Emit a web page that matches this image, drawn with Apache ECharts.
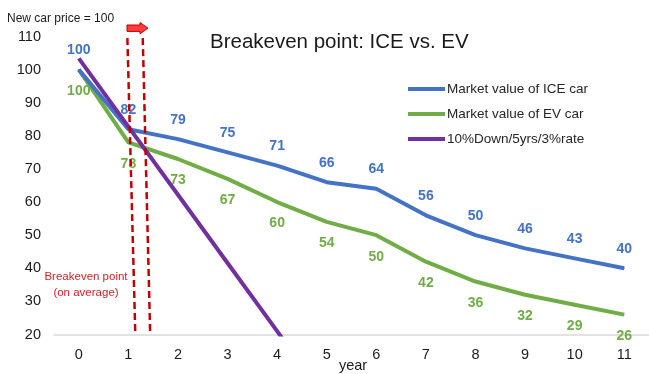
<!DOCTYPE html>
<html>
<head>
<meta charset="utf-8">
<script src="https://cdn.jsdelivr.net/npm/echarts@6/dist/echarts.min.js"></script>
<style>
    html, body { margin: 0; padding: 0; background: #fff; }
    #chart { width: 649px; height: 374px; }
</style>
</head>
<body>
<div id="chart"></div>
<script>
var years = ['0', '1', '2', '3', '4', '5', '6', '7', '8', '9', '10', '11'];
var iceValues = [100, 82, 79, 75, 71, 66, 64, 56, 50, 46, 43, 40];
var evValues = [100, 78, 73, 67, 60, 54, 50, 42, 36, 32, 29, 26];
// 贷款余额线 (只到第5年, 低于20的部分被裁掉)
var loanValues = [103.4, 82.8, 62.2, 41.6, 21.0, 0.4];
// 盈亏平衡点的两条虚线 [x, y]
var breakevenLeft = [[0.98, 109.5], [1.14, 20]];
var breakevenRight = [[1.29, 109.5], [1.44, 20]];
var yTicks = { min: 20, max: 110, interval: 10 };

var font = 'Liberation Sans';
var blue = '#4472C4';
var green = '#70AD47';
var purple = '#7030A0';
var red = '#C00000';

var chart = echarts.init(document.getElementById('chart'));

function dashSeries(data) {
    return {
        type: 'line',
        xAxisIndex: 1,
        data: data,
        symbol: 'none',
        silent: true,
        z: 10,
        lineStyle: { color: red, width: 2.5, type: [7, 4] }
    };
}

var option = {
    animation: false,
    textStyle: { fontFamily: font },
    title: {
        text: 'Breakeven point: ICE vs. EV',
        left: 205,
        top: 27,
        textStyle: { fontFamily: font, fontSize: 20.5, fontWeight: 'normal', color: '#1a1a1a' }
    },
    legend: {
        orient: 'vertical',
        left: 403,
        top: 77,
        itemWidth: 37,
        itemHeight: 4,
        itemGap: 11,
        icon: 'rect',
        textStyle: { fontFamily: font, fontSize: 13.5, color: '#262626', padding: [0, 0, 0, -3] },
        data: ['Market value of ICE car', 'Market value of EV car', '10%Down/5yrs/3%rate']
    },
    grid: { left: 54, right: -5, top: 36.5, bottom: 39.5 },
    xAxis: [{
        type: 'category',
        data: years,
        boundaryGap: true,
        axisLine: { lineStyle: { color: '#D9D9D9', width: 1.5 } },
        axisTick: { show: false },
        axisLabel: { color: '#1a1a1a', fontSize: 14.5, margin: 13, fontFamily: font }
    }, {
        type: 'value',
        min: -0.5,
        max: 11.5,
        show: false
    }],
    yAxis: {
        type: 'value',
        min: yTicks.min,
        max: yTicks.max,
        interval: yTicks.interval,
        axisLine: { show: false },
        axisTick: { show: false },
        splitLine: { show: false },
        axisLabel: { color: '#1a1a1a', fontSize: 14.5, margin: 13, fontFamily: font }
    },
    graphic: [{
        type: 'text',
        left: 7,
        top: 13,
        style: { text: 'New car price = 100', fontFamily: font, fontSize: 12, fill: '#1a1a1a' }
    }, {
        type: 'text',
        x: 86,
        y: 285,
        style: {
            text: 'Breakeven point\n(on average)',
            fontFamily: font, fontSize: 11.5, fill: '#D0202A',
            align: 'center', verticalAlign: 'middle', lineHeight: 16.5
        }
    }, {
        type: 'text',
        x: 353,
        y: 366,
        style: { text: 'year', fontFamily: font, fontSize: 14.5, fill: '#1a1a1a', align: 'center', verticalAlign: 'middle' }
    }, {
        type: 'polygon',
        z: 20,
        shape: { points: [[127, 25], [140, 25], [140, 22.5], [148, 28.2], [140, 33.8], [140, 31.4], [127, 31.4]] },
        style: { fill: '#FF3B3B', stroke: red, lineWidth: 1 }
    }],
    series: [{
        name: 'Market value of EV car',
        type: 'line',
        data: evValues,
        z: 3,
        symbol: 'circle',
        symbolSize: 1,
        itemStyle: { color: green },
        lineStyle: { color: green, width: 4 },
        label: {
            show: true, position: 'bottom', distance: 14,
            color: green, fontSize: 14, fontWeight: 'bold', fontFamily: font
        }
    }, {
        name: 'Market value of ICE car',
        type: 'line',
        data: iceValues,
        z: 4,
        symbol: 'circle',
        symbolSize: 1,
        itemStyle: { color: blue },
        lineStyle: { color: blue, width: 4 },
        label: {
            show: true, position: 'top', distance: 12,
            color: blue, fontSize: 14, fontWeight: 'bold', fontFamily: font
        }
    }, {
        name: '10%Down/5yrs/3%rate',
        type: 'line',
        data: loanValues,
        z: 5,
        clip: true,
        symbol: 'none',
        itemStyle: { color: purple },
        lineStyle: { color: purple, width: 4 }
    },
        dashSeries(breakevenLeft),
        dashSeries(breakevenRight)
    ]
};
chart.setOption(option);
</script>
</body>
</html>
